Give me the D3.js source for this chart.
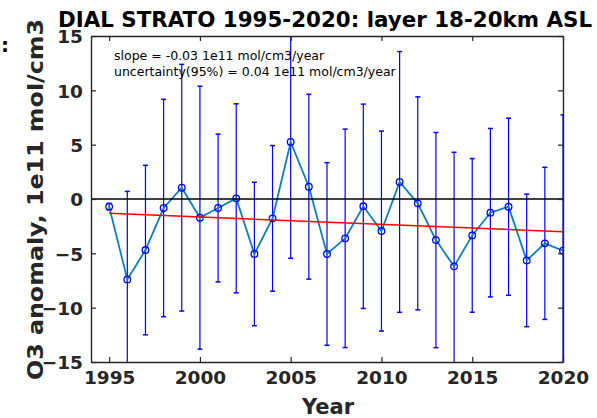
<!DOCTYPE html>
<html><head><meta charset="utf-8">
<script src="https://cdn.jsdelivr.net/npm/d3@7"></script>
<style>html,body{margin:0;padding:0;background:#fff;}svg{display:block;}</style>
</head><body>
<script>
const years = [1995,1996,1997,1998,1999,2000,2001,2002,2003,2004,2005,2006,2007,2008,2009,2010,2011,2012,2013,2014,2015,2016,2017,2018,2019,2020];
const anomaly = [-0.7,-7.4,-4.7,-0.83,1.04,-1.72,-0.83,0.06,-5.06,-1.78,5.25,1.13,-5.06,-3.62,-0.67,-2.95,1.57,-0.4,-3.78,-6.2,-3.35,-1.26,-0.71,-5.65,-4.08,-4.76];
const uncertainty = [0.3,8.1,7.8,10.0,11.35,12.1,6.8,8.7,6.6,6.7,10.7,8.5,8.4,10.05,9.4,9.2,12.0,9.8,9.9,10.5,7.07,7.75,8.15,6.1,7.0,12.5];
const trendYears = [1995, 2020];
const trendValues = [-1.32, -3.01];
const xTicks = [1995,2000,2005,2010,2015,2020];
const yTicks = [-15,-10,-5,0,5,10,15];
const titleText = "DIAL STRATO 1995-2020: layer 18-20km ASL";
const yLabel = "O3 anomaly, 1e11 mol/cm3";
const xLabel = "Year";
const notes = ["slope = -0.03 1e11 mol/cm3/year", "uncertainty(95%) = 0.04 1e11 mol/cm3/year"];

const W = 597, H = 418;
const L = 91, R = 563, T = 36, B = 362;
const svg = d3.select("body").append("svg").attr("width", W).attr("height", H);
const x = d3.scaleLinear().domain([1994, 2020]).range([L, R]);
const y = d3.scaleLinear().domain([-15, 15]).range([B, T]);
const axisColor = "#262626";
const bold = "'DejaVu Sans', sans-serif";

svg.append("defs").append("clipPath").attr("id", "clip")
  .append("rect").attr("x", L).attr("y", T).attr("width", R - L).attr("height", B - T);

const data = years.map((yr, i) => ({yr, v: anomaly[i], e: uncertainty[i]}));
const plot = svg.append("g").attr("clip-path", "url(#clip)");

// error bars
const eb = plot.append("g").attr("stroke", "#0000ff").attr("stroke-width", 1.2);
data.forEach(d => {
  eb.append("line").attr("x1", x(d.yr)).attr("x2", x(d.yr)).attr("y1", y(d.v - d.e)).attr("y2", y(d.v + d.e));
  [d.v - d.e, d.v + d.e].forEach(vv => {
    eb.append("line").attr("x1", x(d.yr) - 2.5).attr("x2", x(d.yr) + 2.5).attr("y1", y(vv)).attr("y2", y(vv)).attr("stroke-width", 1.5);
  });
});

// connecting line
plot.append("path").datum(data)
  .attr("d", d3.line().x(d => x(d.yr)).y(d => y(d.v)))
  .attr("fill", "none").attr("stroke", "#0c7fbf").attr("stroke-width", 1.8);

// markers
plot.append("g").selectAll("circle").data(data).join("circle")
  .attr("cx", d => x(d.yr)).attr("cy", d => y(d.v)).attr("r", 3.3)
  .attr("fill", "none").attr("stroke", "#0000ff").attr("stroke-width", 1.3);

// zero line
plot.append("line").attr("x1", L).attr("x2", R).attr("y1", y(0)).attr("y2", y(0))
  .attr("stroke", "#000").attr("stroke-width", 1.5);

// trend
plot.append("path").datum(trendYears.map((t, i) => [t, trendValues[i]]))
  .attr("d", d3.line().x(d => x(d[0])).y(d => y(d[1])))
  .attr("fill", "none").attr("stroke", "#ff0000").attr("stroke-width", 1.5);

// axes box and ticks
const axB = svg.append("g").attr("transform", `translate(0,${B})`)
  .call(d3.axisBottom(x).tickValues(xTicks).tickSizeInner(-5).tickSizeOuter(0).tickPadding(9).tickFormat(d3.format("d")));
const axT = svg.append("g").attr("transform", `translate(0,${T})`)
  .call(d3.axisTop(x).tickValues(xTicks).tickSizeInner(-5).tickSizeOuter(0).tickFormat(""));
const axL = svg.append("g").attr("transform", `translate(${L},0)`)
  .call(d3.axisLeft(y).tickValues(yTicks).tickSizeInner(-5).tickSizeOuter(0).tickPadding(8));
const axR = svg.append("g").attr("transform", `translate(${R},0)`)
  .call(d3.axisRight(y).tickValues(yTicks).tickSizeInner(-5).tickSizeOuter(0).tickFormat(""));
[axB, axT, axL, axR].forEach(a => {
  a.select(".domain").attr("stroke", axisColor).attr("stroke-width", 1.4);
  a.selectAll(".tick line").attr("stroke", axisColor).attr("stroke-width", 1.2);
  a.selectAll("text").attr("fill", axisColor).attr("font-family", bold)
    .attr("font-weight", "bold").attr("font-size", 18.5);
});
axB.selectAll("text").attr("dy", "0.71em");
axL.selectAll("text").attr("dy", "0.36em");

// notes
notes.forEach((t, i) => {
  svg.append("text").attr("x", 114).attr("y", 59.5 + i * 16)
    .attr("font-family", "'DejaVu Sans', sans-serif").attr("font-size", 12.5)
    .attr("fill", "#000").text(t);
});

// title
svg.append("text").attr("x", 58).attr("y", 27)
  .attr("font-family", bold).attr("font-weight", "bold").attr("font-size", 21.2)
  .attr("fill", "#000").attr("textLength", 534).attr("lengthAdjust", "spacingAndGlyphs")
  .text(titleText);

// y label
svg.append("text").attr("transform", `translate(43,${(380 + 19) / 2}) rotate(-90)`)
  .attr("text-anchor", "middle")
  .attr("font-family", bold).attr("font-weight", "bold").attr("font-size", 22)
  .attr("fill", axisColor).attr("textLength", 361).attr("lengthAdjust", "spacingAndGlyphs")
  .text(yLabel);

// x label
svg.append("text").attr("x", 328).attr("y", 414).attr("text-anchor", "middle")
  .attr("font-family", bold).attr("font-weight", "bold").attr("font-size", 21)
  .attr("fill", axisColor).text(xLabel);

// fragment at left edge
svg.append("text").attr("x", 1).attr("y", 52).attr("font-family", bold)
  .attr("font-weight", "bold").attr("font-size", 20).attr("fill", "#000").text(":");
</script>
</body></html>
